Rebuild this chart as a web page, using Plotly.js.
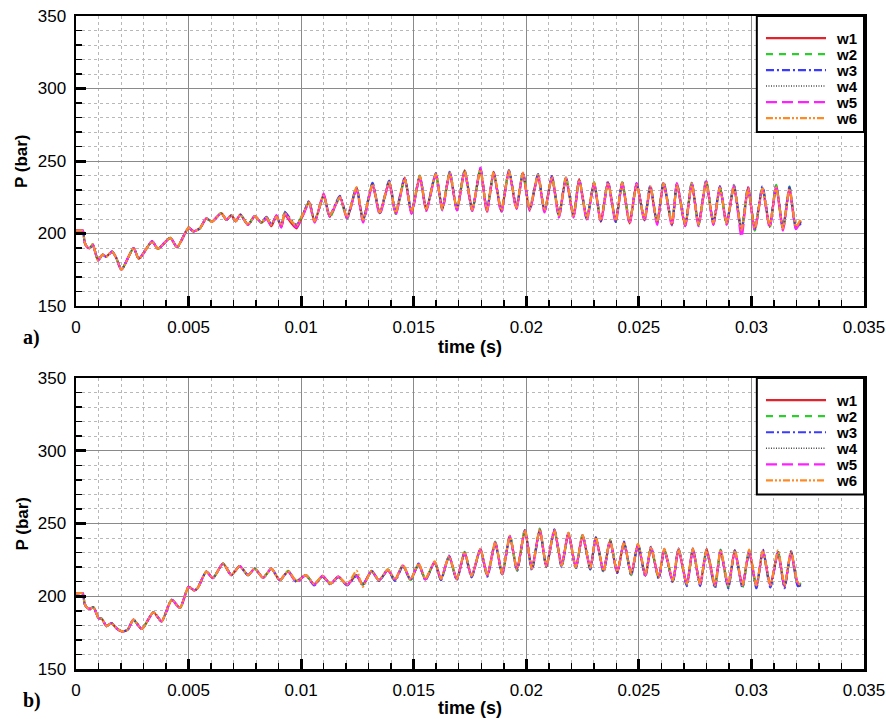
<!DOCTYPE html>
<html>
<head>
<meta charset="utf-8">
<script src="https://cdn.plot.ly/plotly-3.0.1.min.js"></script>
<style>
  html, body { margin: 0; padding: 0; background: #ffffff; }
  #chart { width: 886px; height: 719px; }
</style>
</head>
<body>
<div id="chart"></div>
<script>
// ---- series labels and tick labels ----
const seriesNames = ['w1', 'w2', 'w3', 'w4', 'w5', 'w6'];
const xTickVals = [0, 0.005, 0.01, 0.015, 0.02, 0.025, 0.03, 0.035];
const xTickText = ['0', '0.005', '0.01', '0.015', '0.02', '0.025', '0.03', '0.035'];
const yTickVals = [150, 200, 250, 300, 350];
const yTickText = ['150', '200', '250', '300', '350'];

// ---- case a) : start-up part shared by all probes ----
const tA0 = [0, 0.0003, 0.00038, 0.0005, 0.00062, 0.00074, 0.00098, 0.00118, 0.00134, 0.0016,
  0.00178, 0.00202, 0.00256, 0.00279, 0.00338, 0.00364, 0.00419, 0.00449, 0.005, 0.00522,
  0.0055, 0.00579, 0.00603, 0.00645, 0.00668, 0.0069, 0.0071, 0.0073, 0.00764, 0.00794, 0.00823];
const pA0 = [202, 202, 194, 190.5, 190, 192.5, 181.5, 185.5, 184, 187.5,
  183.5, 175, 190, 182.5, 194.5, 189.5, 197, 190.5, 204, 201.5,
  203.5, 210.5, 208, 214, 209.5, 212.5, 208.5, 213, 206, 212, 207.5];

// ---- case a) : oscillating part, per probe ----
const tA1 = [0.00846, 0.00868, 0.0089, 0.00912, 0.00927, 0.00957, 0.00979, 0.0101, 0.01035, 0.0106,
  0.011, 0.01127, 0.01172, 0.01204, 0.01246, 0.01275, 0.01317, 0.01349, 0.01391, 0.0142,
  0.0146, 0.0149, 0.01527, 0.01556, 0.01598, 0.01627, 0.0166, 0.01692, 0.01726, 0.0176,
  0.01796, 0.01825, 0.01855, 0.01889, 0.01923, 0.01956, 0.01985, 0.02015, 0.02052, 0.02081,
  0.02114, 0.02145, 0.02176, 0.0221, 0.02235, 0.02269, 0.02301, 0.02331, 0.02363, 0.02397,
  0.02426, 0.02459, 0.0249, 0.02525, 0.02551, 0.02581, 0.0261, 0.02647, 0.02669, 0.02706,
  0.02735, 0.02765, 0.02799, 0.02831, 0.0286, 0.0289, 0.02922, 0.02956, 0.02985, 0.03015,
  0.03049, 0.03081, 0.0311, 0.0314, 0.03169, 0.03198, 0.0322];

const w1A = [210.5, 205, 212.5, 204.5, 213, 207, 203.5, 213.5,
  222, 208, 227, 211.5, 225.5, 210.5, 231, 209.5, 233.5, 214.5, 235, 213.5,
  238.5, 214, 239, 216, 241.5, 217, 241.5, 216, 243.5, 216.5, 244, 215, 242.5, 215, 243.5, 217, 241.5, 216, 240, 215,
  239.5, 212.5, 238, 211.5, 237.5, 210.5, 234.5, 208, 235.5, 209, 234.5, 207, 234.5, 209, 232, 207, 234.5, 205.5, 234.5, 205,
  234.5, 206.5, 235.5, 206, 232.5, 206.5, 232, 202, 232, 202.5, 231, 204.5, 233, 203.5, 231, 204.5, 208.5];
const w2A = [211, 206, 212, 205.5, 214.5, 208.5, 205.5, 214.5,
  221, 209, 226, 211, 224.5, 210, 232, 208.5, 234.5, 213.5, 236, 213.5,
  237.5, 214.5, 240, 217, 240.5, 216, 242.5, 217, 242.5, 215.5, 245, 216, 241.5, 216, 243, 218, 242.5, 217, 240.5, 216,
  238.5, 212, 239, 212.5, 236.5, 210.5, 235.5, 209, 234.5, 208, 235.5, 208, 233.5, 210, 233, 208, 236, 206.5, 233.5, 205.5,
  235.5, 205.5, 237, 206.5, 231.5, 205.5, 233.5, 203, 232.5, 202, 232, 204, 233.5, 202.5, 232.5, 203, 200];
const w3A = [211.5, 206.5, 211.5, 205, 215, 209, 206, 213.5,
  222.5, 208.5, 225.5, 212.5, 226, 211.5, 231.5, 209, 235, 214, 236.5, 215,
  238.5, 215, 239.5, 217, 241.5, 217, 242.5, 216.5, 243.5, 216, 244.5, 216, 242, 215, 243.5, 218, 242, 217, 241, 215,
  239.5, 211.5, 238.5, 212.5, 237.5, 209.5, 235, 208.5, 236, 208, 235.5, 207.5, 234.5, 209.5, 233, 207, 235.5, 206.5, 234.5, 206.5,
  235, 206.5, 236, 207.5, 232.5, 207.5, 233, 201.5, 231, 203.5, 232.5, 205.5, 233, 203.5, 232, 204, 207];
const w4A = [210.8, 205.8, 212, 205, 214, 208.5, 205, 214,
  221.5, 208.5, 226.5, 212, 225, 211, 231.5, 209, 234, 214, 235.5, 214,
  238, 214.5, 239.5, 216.5, 241, 216.5, 242, 216.5, 243, 216, 244.5, 215.5, 242, 215.5, 243, 217.5, 242, 216.5, 240.5, 215.5,
  239, 212, 238.5, 212, 237, 210, 235, 208.5, 235, 208.5, 235, 207.5, 234, 209.5, 232.5, 207.5, 235, 206, 234, 206,
  235, 206, 236, 207, 232, 207, 232.5, 201.5, 231.5, 203, 231.5, 205, 232.5, 203, 231.5, 204, 208];
const w5A = [210, 205.5, 212.5, 204, 213.5, 208, 204.5, 213,
  221, 207.5, 227.5, 211.5, 225, 210.5, 230.5, 207.5, 233.5, 213, 235, 213,
  237.5, 213.5, 239, 215.5, 240.5, 216, 241.5, 216, 242.5, 215.5, 245.5, 214.5, 241.5, 214.5, 242.5, 216.5, 241.5, 215.5, 240, 214.5,
  238.5, 211, 238, 211, 236.5, 209, 234.5, 207.5, 234.5, 207.5, 234.5, 206.5, 234.5, 208.5, 232, 206, 234.5, 205, 234.5, 205,
  234.5, 205, 236, 206, 232, 206, 233, 197.5, 232, 202, 230.5, 204, 232, 202, 230.5, 203, 209];
const w6A = [211, 206, 211.5, 205.5, 214, 208.5, 205.5, 214,
  221.5, 208.5, 226, 212.5, 225, 211.5, 232, 209.5, 234, 214.5, 235.5, 214.5,
  238, 215, 239.5, 217, 241, 217, 242, 217, 243, 216.5, 244, 216, 242.5, 216, 243, 218, 242, 217, 240.5, 216,
  239, 212.5, 238.5, 212.5, 237, 210.5, 235, 209, 235, 209, 235, 208, 233.5, 210, 232.5, 208, 234.5, 206.5, 233.5, 206.5,
  234.5, 206.5, 235.5, 207.5, 231.5, 207.5, 232, 202.5, 231, 203.5, 231, 205.5, 232, 203.5, 231, 205, 210];

// ---- case b) : start-up part shared by all probes ----
const tB0 = [0, 0.0003, 0.00038, 0.0005, 0.00065, 0.00078, 0.001, 0.00115, 0.00135, 0.00158,
  0.0018, 0.00205, 0.0023, 0.00255, 0.00292, 0.00344, 0.0038, 0.00425, 0.00462, 0.005,
  0.00525, 0.0054, 0.00579, 0.00608, 0.00653, 0.0069, 0.00727, 0.00764, 0.00794, 0.00831,
  0.00868, 0.00905];
const pB0 = [202, 202, 195, 192, 191.5, 192.5, 185, 184.5, 179.5, 181.5,
  178, 175.8, 177, 184, 177.5, 189, 182.7, 197.5, 192, 206.5,
  204, 205.5, 217, 212.5, 222.5, 214.5, 220.7, 214.5, 219, 212.7,
  219, 211];

// ---- case b) : oscillating part, per probe ----
const tB1 = [0.00942, 0.00979, 0.01021, 0.01058, 0.01095, 0.0113, 0.01165, 0.01204, 0.01246, 0.01274,
  0.01313, 0.01346, 0.01385, 0.01417, 0.01452, 0.01486, 0.01522, 0.01552, 0.01593, 0.01621,
  0.01657, 0.01691, 0.01726, 0.01757, 0.01796, 0.01827, 0.01862, 0.01893, 0.01927, 0.01959,
  0.01994, 0.02025, 0.0206, 0.02089, 0.02125, 0.02157, 0.02187, 0.0222, 0.0225, 0.02284,
  0.02309, 0.02343, 0.02372, 0.02404, 0.02434, 0.02466, 0.02496, 0.02529, 0.02554, 0.02588,
  0.02613, 0.02651, 0.02676, 0.02713, 0.0274, 0.02772, 0.02801, 0.02838, 0.02863, 0.02897,
  0.02926, 0.0296, 0.0299, 0.03022, 0.03051, 0.03084, 0.03118, 0.03147, 0.03176, 0.03206, 0.0322];

const w1B = [217, 210.5, 214.5, 208, 214, 208.5, 213.5, 208, 214.5, 208,
  217.5, 211, 218, 211.5, 221, 211.5, 222, 211.5, 223.5, 211.5,
  227.5, 211.5, 230, 213.5, 232.5, 214, 237, 215, 241, 218.5,
  245, 219, 246, 220, 245.5, 221, 243.5, 219.5, 242, 219,
  240.5, 217.5, 238, 216, 237, 215.5, 235.5, 214, 233.5, 213,
  232.5, 210, 232, 208.5, 233, 207.5, 232.5, 207.5, 231, 206.5,
  231.5, 207.5, 230.5, 206.5, 231.5, 207.5, 230, 206.5, 230.5, 208.5, 208];
const w2B = [217.5, 210.5, 214.5, 208.5, 213.5, 208.5, 213, 208, 214.5, 208,
  217, 211, 218.5, 211, 221.5, 211, 222, 212, 223, 211.5,
  227, 212, 230.5, 214, 232, 214.5, 237.5, 215.5, 242, 217.5,
  246, 218.5, 246.5, 220.5, 245, 220, 243, 219.5, 242.5, 218.5,
  240, 217, 239, 217, 236.5, 214.5, 236, 215, 233, 212.5,
  231.5, 210.5, 232.5, 207.5, 231.5, 208.5, 231, 206.5, 232, 206,
  230.5, 206, 231.5, 206.5, 230, 206.5, 231, 207, 229.5, 207.5, 209];
const w3B = [217, 210, 214.5, 207.5, 213.5, 208, 213.5, 207.5, 214, 207.5,
  217.5, 210.5, 218, 210.5, 221, 211, 222.5, 211, 223.5, 211,
  228, 211, 230, 213, 232.5, 213.5, 236.5, 214.5, 241.5, 217.5,
  245.5, 218, 245.5, 220.5, 246, 220, 243.5, 219, 242, 218.5,
  240.5, 216.5, 238.5, 216, 237.5, 214.5, 235.5, 213.5, 234, 212,
  232, 209.5, 233, 207, 232.5, 207, 232, 205.5, 231.5, 205.5,
  231.5, 206, 231, 205.5, 232, 206, 230.5, 205.5, 231, 207, 207.5];
const w4B = [217.3, 210.4, 214.5, 208, 213.8, 208.5, 213.3, 208, 214.5, 208,
  217.3, 211, 218.2, 211, 221, 211.5, 222, 211.5, 223.5, 211.5,
  227.5, 211.5, 230, 213.8, 232.3, 214, 237, 215, 241.5, 218,
  245.5, 218.5, 246, 220.5, 245.5, 220.7, 243.3, 219.6, 242, 219,
  240.3, 217.3, 238.5, 216.6, 237, 215, 235.7, 214.5, 233.5, 212.7,
  232, 210.4, 232.3, 208, 232, 208, 231.5, 207, 231.5, 207,
  231, 207, 231, 207, 231, 207, 230.5, 207, 230, 208, 208];
const w5B = [217, 209.5, 214.5, 208, 214, 208.5, 213.5, 208, 214, 208,
  217, 211, 218, 211.5, 221, 212, 222, 211.5, 223.5, 212,
  227.5, 212, 229.5, 214, 232, 214.5, 237, 215.5, 241, 218.5,
  245, 219, 245.5, 221, 245, 221.5, 243, 220, 241.5, 219.5,
  239.5, 217.5, 238, 216.5, 236.5, 215.5, 235, 214.5, 233, 213,
  231.5, 210.5, 231.5, 208.5, 231.5, 208.5, 230.5, 207.5, 231, 207.5,
  230.5, 207.5, 230.5, 207.5, 230.5, 207.5, 229.5, 207.5, 229.5, 209, 208.5];
const w6B = [217.5, 210.5, 214.5, 208.5, 213.8, 208.5, 213.5, 208, 217.5, 206.5,
  217.5, 211, 218.5, 211.5, 221.5, 211.5, 222.5, 212, 224, 212,
  227.5, 212, 230.5, 214, 232.5, 214.5, 237, 215.5, 241.5, 218.5,
  245.5, 219, 246, 221, 245.5, 221, 243.5, 220, 242, 219.5,
  240.5, 217.5, 238.5, 217, 237, 215.5, 236, 215, 234, 213,
  232.5, 211, 232.5, 208.5, 232.5, 208.5, 232, 207.5, 232, 207.5,
  231.5, 207.5, 232, 207.5, 231.5, 207.5, 231.5, 207.5, 231, 209, 208];

// ---- line styles ----
const lineColors = ['#e3222b', '#2ecc2e', '#3b3bff', '#4a4a4a', '#ff20ff', '#ff8a24'];
const lineDashes = ['solid', '7px,6px', '8px,3px,2px,3px', '1px,1.5px', '11px,5px', '7px,2px,2px,2px,2px,2px'];
const lineWidths = [2.2, 2.2, 2.2, 1.5, 2.2, 2.2];

const lateA = [w1A, w2A, w3A, w4A, w5A, w6A];
const lateB = [w1B, w2B, w3B, w4B, w5B, w6B];

const traces = [];
function addCase(t0, p0, t1, late, xa, ya) {
  seriesNames.forEach((name, i) => {
    traces.push({
      type: 'scatter',
      mode: 'lines',
      name: name,
      x: t0.concat(t1),
      y: p0.concat(late[i]),
      xaxis: xa,
      yaxis: ya,
      showlegend: false,
      line: { color: lineColors[i], dash: lineDashes[i], width: lineWidths[i], shape: 'spline', smoothing: 0.6 }
    });
  });
}
addCase(tA0, pA0, tA1, lateA, 'x', 'y');
addCase(tB0, pB0, tB1, lateB, 'x2', 'y2');

const baseFont = 'Liberation Sans, Arial, Helvetica, sans-serif';

function xAxisDef(anchor) {
  return {
    anchor: anchor,
    domain: [0, 1],
    range: [0, 0.035],
    tickmode: 'array',
    tickvals: xTickVals,
    ticktext: xTickText,
    ticks: 'inside',
    ticklen: 10,
    tickwidth: 3,
    tickcolor: '#000000',
    ticklabelstandoff: 4,
    tickfont: { family: baseFont, size: 17, color: '#000000' },
    showline: true,
    linecolor: '#000000',
    linewidth: 2.5,
    mirror: true,
    showgrid: true,
    gridcolor: '#8a8a8a',
    gridwidth: 1,
    zeroline: false,
    minor: {
      dtick: 0.001, tick0: 0, ticks: 'inside', ticklen: 6, tickwidth: 1.5, tickcolor: '#000000',
      showgrid: true, gridcolor: '#b8b8b8', gridwidth: 1, griddash: 'dot'
    }
  };
}
function yAxisDef(anchor, domain) {
  return {
    anchor: anchor,
    domain: domain,
    range: [150, 350],
    tickmode: 'array',
    tickvals: yTickVals,
    ticktext: yTickText,
    ticks: 'inside',
    ticklen: 10,
    tickwidth: 3,
    tickcolor: '#000000',
    ticklabelstandoff: 4,
    tickfont: { family: baseFont, size: 17, color: '#000000' },
    showline: true,
    linecolor: '#000000',
    linewidth: 2.5,
    mirror: true,
    showgrid: true,
    gridcolor: '#8a8a8a',
    gridwidth: 1,
    zeroline: false,
    minor: {
      dtick: 10, tick0: 150, ticks: 'inside', ticklen: 6, tickwidth: 1.5, tickcolor: '#000000',
      showgrid: true, gridcolor: '#b8b8b8', gridwidth: 1, griddash: 'dot'
    }
  };
}

// ---- legend boxes, axis titles and panel tags ----
const shapes = [];
const annotations = [];
const panels = [
  { xr: 'x domain', yr: 'y domain', tag: 'a)', titleY: -0.141, tagY: -0.11 },
  { xr: 'x2 domain', yr: 'y2 domain', tag: 'b)', titleY: -0.134, tagY: -0.107 }
];
panels.forEach(p => {
  shapes.push({
    type: 'rect', xref: p.xr, yref: p.yr, x0: 0.864, x1: 1, y0: 0.6, y1: 1,
    line: { color: '#000000', width: 2 }, fillcolor: '#ffffff', layer: 'above'
  });
  seriesNames.forEach((name, i) => {
    const yy = 0.924 - i * 0.0552;
    shapes.push({
      type: 'line', xref: p.xr, yref: p.yr, x0: 0.8756, x1: 0.9518, y0: yy, y1: yy,
      line: { color: lineColors[i], dash: lineDashes[i], width: lineWidths[i] }, layer: 'above'
    });
    annotations.push({
      xref: p.xr, yref: p.yr, x: 0.963, y: yy, xanchor: 'left', yanchor: 'middle',
      text: name, showarrow: false, borderpad: 0,
      font: { family: baseFont, size: 15, color: '#000000', weight: 'bold' }
    });
  });
  annotations.push({
    xref: 'paper', yref: p.yr, x: -0.0685, y: 0.5, xanchor: 'center', yanchor: 'middle',
    text: 'P (bar)', textangle: -90, showarrow: false,
    font: { family: baseFont, size: 17, color: '#000000', weight: 'bold' }
  });
  annotations.push({
    xref: p.xr, yref: p.yr, x: 0.5, y: p.titleY, xanchor: 'center', yanchor: 'middle',
    text: 'time (s)', showarrow: false,
    font: { family: baseFont, size: 18, color: '#000000', weight: 'bold' }
  });
  annotations.push({
    xref: 'paper', yref: p.yr, x: -0.0698, y: p.tagY, xanchor: 'left', yanchor: 'middle',
    text: p.tag, showarrow: false,
    font: { family: 'Liberation Serif, Times New Roman, serif', size: 20, color: '#000000', weight: 'bold' }
  });
});

const layout = {
  width: 886,
  height: 719,
  margin: { l: 76, r: 22, t: 16, b: 50 },
  paper_bgcolor: '#ffffff',
  plot_bgcolor: '#ffffff',
  showlegend: false,
  xaxis: xAxisDef('y'),
  yaxis: yAxisDef('x', [0.5559, 1]),
  xaxis2: xAxisDef('y2'),
  yaxis2: yAxisDef('x2', [0, 0.4456]),
  shapes: shapes,
  annotations: annotations
};

Plotly.newPlot('chart', traces, layout, { staticPlot: true, displayModeBar: false });
</script>
</body>
</html>
